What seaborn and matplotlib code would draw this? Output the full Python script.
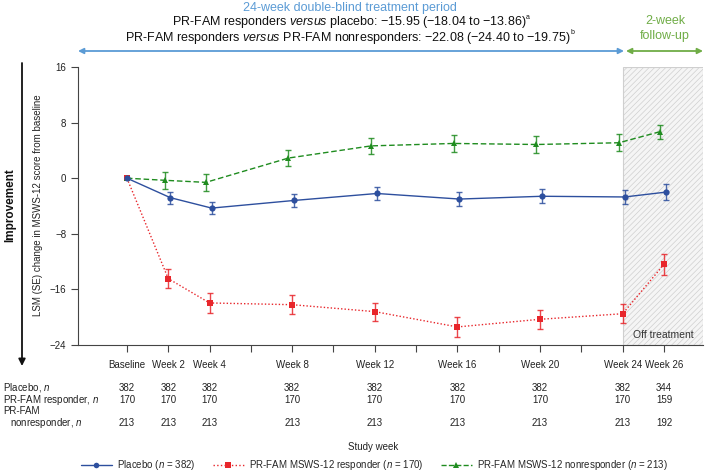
import numpy as np
import pandas as pd
import matplotlib
matplotlib.use("Agg")
import matplotlib.pyplot as plt
import matplotlib.transforms as mtransforms
from matplotlib.lines import Line2D
import seaborn as sns

# data
weeks = [0, 2, 4, 8, 12, 16, 20, 24, 26]
week_labels = ['Baseline', 'Week 2', 'Week 4', 'Week 8', 'Week 12',
               'Week 16', 'Week 20', 'Week 24', 'Week 26']

placebo_lsm = [0, -2.8, -4.3, -3.2, -2.2, -3.0, -2.6, -2.7, -2.0]
placebo_se = [0, 0.85, 0.9, 0.9, 0.95, 1.0, 1.0, 0.95, 1.1]
resp_lsm = [0, -14.45, -17.95, -18.2, -19.2, -21.4, -20.3, -19.5, -12.4]
resp_se = [0, 1.4, 1.4, 1.4, 1.3, 1.4, 1.4, 1.4, 1.5]
nonresp_lsm = [0, -0.3, -0.6, 2.9, 4.65, 5.0, 4.85, 5.1, 6.7]
nonresp_se = [0, 1.2, 1.2, 1.2, 1.2, 1.2, 1.2, 1.2, 1.0]

placebo_n = [382, 382, 382, 382, 382, 382, 382, 382, 344]
resp_n = [170, 170, 170, 170, 170, 170, 170, 170, 159]
nonresp_n = [213, 213, 213, 213, 213, 213, 213, 213, 192]

groups = ['PR-FAM MSWS-12 responder', 'PR-FAM MSWS-12 nonresponder', 'Placebo']
legend_order = ['Placebo', 'PR-FAM MSWS-12 responder', 'PR-FAM MSWS-12 nonresponder']
legend_labels = {
    'Placebo': r'Placebo ($\it{n}$ = 382)',
    'PR-FAM MSWS-12 responder': r'PR-FAM MSWS-12 responder ($\it{n}$ = 170)',
    'PR-FAM MSWS-12 nonresponder': r'PR-FAM MSWS-12 nonresponder ($\it{n}$ = 213)',
}

colors = {'Placebo': '#2d4f9e', 'PR-FAM MSWS-12 responder': '#e8262b',
          'PR-FAM MSWS-12 nonresponder': '#1f8c1f'}
markers = {'Placebo': 'o', 'PR-FAM MSWS-12 responder': 's',
           'PR-FAM MSWS-12 nonresponder': '^'}
dashes = {'Placebo': '', 'PR-FAM MSWS-12 responder': (1, 1.5),
          'PR-FAM MSWS-12 nonresponder': (4, 2)}
linestyles = {'Placebo': '-', 'PR-FAM MSWS-12 responder': ':',
              'PR-FAM MSWS-12 nonresponder': '--'}
dodge = {'Placebo': 0.1, 'PR-FAM MSWS-12 responder': 0.0,
         'PR-FAM MSWS-12 nonresponder': -0.18}

series = {'Placebo': (placebo_lsm, placebo_se),
          'PR-FAM MSWS-12 responder': (resp_lsm, resp_se),
          'PR-FAM MSWS-12 nonresponder': (nonresp_lsm, nonresp_se)}

rows = []
for g, (lsm, se) in series.items():
    for w, m, s in zip(weeks, lsm, se):
        rows.append({'group': g, 'week': w, 'pos': w + (dodge[g] if w > 0 else 0),
                     'lsm': m, 'se': s})
df = pd.DataFrame(rows)

sns.set_style("ticks")
plt.rcParams['font.family'] = ['Liberation Sans', 'DejaVu Sans']
plt.rcParams['mathtext.fontset'] = 'custom'
plt.rcParams['mathtext.rm'] = 'Liberation Sans'
plt.rcParams['mathtext.it'] = 'Liberation Sans:italic'
plt.rcParams['hatch.linewidth'] = 0.5
plt.rcParams['axes.edgecolor'] = '#444444'

W, H = 715, 472
fig = plt.figure(figsize=(W / 100, H / 100), dpi=100)


def fx(px):
    return px / W


def fy(py):
    return 1 - py / H


ax = fig.add_axes([fx(78), fy(345), fx(703) - fx(78), fy(67) - fy(345)])

x0, x1 = -2.37, 27.89
ax.set_xlim(x0, x1)
ax.set_ylim(-24, 16)

# off-treatment shaded region
ax.axvspan(24, x1, facecolor='#f5f5f5', edgecolor='#cfcfcf', hatch='//////',
           lw=0.8, zorder=0)
ax.text(25.95, -22.6, 'Off treatment', ha='center', va='center', fontsize=7.5,
        color='#333333')

sns.lineplot(data=df, x='pos', y='lsm', hue='group', style='group',
             hue_order=groups, style_order=groups, palette=colors,
             markers=markers, dashes=dashes, markersize=4.5,
             markeredgewidth=0, linewidth=1, sort=True, legend=False, ax=ax)

for g in groups:
    d = df[(df['group'] == g) & (df['week'] > 0)]
    ax.errorbar(d['pos'], d['lsm'], yerr=d['se'], fmt='none', ecolor=colors[g],
                elinewidth=1, capsize=2.5, capthick=1, alpha=0.85, zorder=3)

ax.set_xticks(np.arange(0, 27, 2))
ax.set_xticklabels([week_labels[weeks.index(t)] if t in weeks else ''
                    for t in np.arange(0, 27, 2)])
ax.set_yticks([16, 8, 0, -8, -16, -24])
ax.tick_params(axis='both', labelsize=7, length=5, width=0.8, colors='#444444',
               labelcolor='#222222')
ax.tick_params(axis='x', pad=6)
ax.set_xlabel('')
ax.set_ylabel('')
sns.despine(ax=ax)

# axis label and improvement arrow
fig.text(fx(38), fy(205), 'LSM (SE) change in MSWS-12 score from baseline',
         rotation=90, ha='center', va='center', fontsize=7, color='#222222')
fig.text(fx(10), fy(205), 'Improvement', rotation=90, ha='center', va='center',
         fontsize=8.5, fontweight='bold', color='#111111')
ax.annotate('', xy=(fx(22), fy(366)), xytext=(fx(22), fy(63)),
            xycoords='figure fraction', textcoords='figure fraction',
            arrowprops=dict(arrowstyle='-|>', color='#111111', lw=1.3,
                            mutation_scale=10, shrinkA=0, shrinkB=0))

# header arrows and text
blue = '#5b9bd5'
green = '#70ad47'
ax.annotate('', xy=(fx(78), fy(51)), xytext=(fx(624), fy(51)),
            xycoords='figure fraction', textcoords='figure fraction',
            arrowprops=dict(arrowstyle='<|-|>', color=blue, lw=1.3,
                            mutation_scale=8, shrinkA=0, shrinkB=0))
ax.annotate('', xy=(fx(626), fy(51)), xytext=(fx(703), fy(51)),
            xycoords='figure fraction', textcoords='figure fraction',
            arrowprops=dict(arrowstyle='<|-|>', color=green, lw=1.3,
                            mutation_scale=8, shrinkA=0, shrinkB=0))
fig.text(fx(350), fy(8.5), '24-week double-blind treatment period', ha='center',
         va='center', fontsize=9, color=blue)
line2 = fig.text(fx(349), fy(22.5),
                 r'PR-FAM responders $\it{versus}$ placebo: −15.95 (−18.04 to −13.86)',
                 ha='center', va='center', fontsize=9, color='#111111')
line3 = fig.text(fx(348), fy(37.5),
                 r'PR-FAM responders $\it{versus}$ PR-FAM nonresponders: −22.08 (−24.40 to −19.75)',
                 ha='center', va='center', fontsize=9, color='#111111')
# footnote markers attached to the end of each line
for t, mark in [(line2, 'a'), (line3, 'b')]:
    ax.annotate(mark, xy=(1, 0.62), xycoords=t, xytext=(-0.5, 0),
                textcoords='offset points', ha='left', va='bottom',
                fontsize=5, color='#111111')
fig.text(fx(665), fy(21), '2-week', ha='center', va='center', fontsize=9,
         color=green)
fig.text(fx(665), fy(36.5), 'follow-up', ha='center', va='center', fontsize=9,
         color=green)

# n table under the axis
trans = mtransforms.blended_transform_factory(ax.transData, fig.transFigure)
table = [(388, r'Placebo, $\it{n}$', placebo_n, 3),
         (400, r'PR-FAM responder, $\it{n}$', resp_n, 3),
         (423, r'nonresponder, $\it{n}$', nonresp_n, 10)]
for py, label, vals, lx in table:
    fig.text(fx(lx), fy(py), label, ha='left', va='center', fontsize=7,
             color='#222222')
    for w, v in zip(weeks, vals):
        ax.text(w, fy(py), str(v), transform=trans, ha='center', va='center',
                fontsize=7, color='#222222')
fig.text(fx(3), fy(411), 'PR-FAM', ha='left', va='center', fontsize=7,
         color='#222222')

fig.text(fx(373), fy(447), 'Study week', ha='center', va='center', fontsize=7,
         color='#222222')

handles = [Line2D([0], [0], color=colors[g], ls=linestyles[g], lw=1,
                  marker=markers[g], markersize=4, markeredgewidth=0)
           for g in legend_order]
labels = [legend_labels[g] for g in legend_order]
fig.legend(handles, labels, loc='center', bbox_to_anchor=(fx(374), fy(465)),
           ncol=3, frameon=False, fontsize=7, handlelength=3.2,
           columnspacing=1.8, handletextpad=0.5)

fig.savefig('out.png', dpi=100)
